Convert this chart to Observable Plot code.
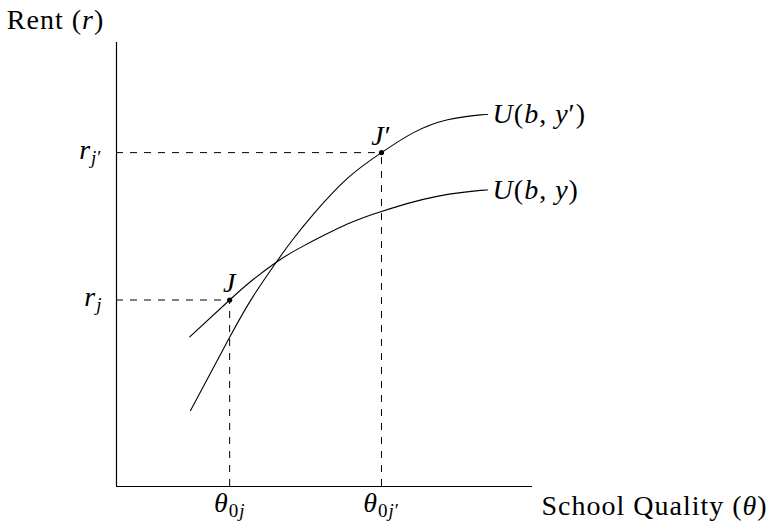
<!DOCTYPE html>
<html>
<head>
<meta charset="utf-8">
<script src="https://cdn.jsdelivr.net/npm/d3@7"></script>
<script src="https://cdn.jsdelivr.net/npm/@observablehq/plot@0.6"></script>
<style>
  body { margin: 0; background: #fff; }
  #chart svg { display: block; }
</style>
</head>
<body>
<div id="chart"></div>
<script>
// Two bid-rent (indifference) curves over school quality θ and rent r.
const lowTheta  = [1.76, 2.72, 3.27, 3.84, 4.42, 5.55, 6.35, 7.14, 7.96, 8.75, 8.92];
const lowRent   = [3.37, 4.20, 4.65, 5.05, 5.38, 5.91, 6.19, 6.41, 6.58, 6.67, 6.68];
const highTheta = [1.78, 2.72, 3.27, 3.84, 4.22, 4.74, 5.55, 6.37, 7.14, 7.96, 8.75, 8.92];
const highRent  = [1.71, 3.36, 4.26, 5.05, 5.54, 6.14, 6.94, 7.52, 7.97, 8.26, 8.37, 8.38];
const curveNames = ["U(b, y)", "U(b, y′)"];

// Chosen locations J and J′
const pointNames = ["J", "J′"];
const pointTheta = [2.72, 6.37];
const pointRent  = [4.20, 7.52];
const thetaTicks = ["θ0j", "θ0j′"];
const rentTicks  = ["rj", "rj′"];

const yAxisTitle = "Rent (r)";
const xAxisTitle = "School Quality (θ)";

const lowCurve  = lowTheta.map((t, i) => ({theta: t, rent: lowRent[i]}));
const highCurve = highTheta.map((t, i) => ({theta: t, rent: highRent[i]}));
const points = pointNames.map((n, i) => ({
  name: n, theta: pointTheta[i], rent: pointRent[i],
  thetaTick: thetaTicks[i], rentTick: rentTicks[i]
}));
const ends = [
  {name: curveNames[0], theta: lowTheta[lowTheta.length - 1], rent: lowRent[lowRent.length - 1]},
  {name: curveNames[1], theta: highTheta[highTheta.length - 1], rent: highRent[highRent.length - 1]}
];

const FONT = "Liberation Serif";
const FS = 28;
const txt = {fontFamily: FONT, fontSize: FS, fill: "#000"};
const dash = {stroke: "#000", strokeWidth: 1, strokeDasharray: "7,7"};

const chart = Plot.plot({
  width: 776,
  height: 522,
  marginLeft: 116,
  marginRight: 244,
  marginTop: 42,
  marginBottom: 36,
  x: {domain: [0, 10], axis: null},
  y: {domain: [0, 10], axis: null},
  marks: [
    // dashed guides from each point to the axes
    Plot.ruleY(points, {y: "rent", x1: 0, x2: "theta", ...dash}),
    Plot.ruleX(points, {x: "theta", y1: 0, y2: "rent", ...dash}),
    // axes
    Plot.ruleX([0], {y1: 0, y2: 10, stroke: "#000", strokeWidth: 1.2}),
    Plot.ruleY([0], {x1: 0, x2: 10, stroke: "#000", strokeWidth: 1.2}),
    // curves
    Plot.line(lowCurve, {x: "theta", y: "rent", curve: "natural", stroke: "#000", strokeWidth: 1.1}),
    Plot.line(highCurve, {x: "theta", y: "rent", curve: "natural", stroke: "#000", strokeWidth: 1.1}),
    Plot.dot(points, {x: "theta", y: "rent", r: 2.6, fill: "#000", stroke: null}),
    // labels
    Plot.text(points, {x: "theta", y: "rent", text: "name", dy: -17, ...txt}),
    Plot.text(points, {x: "theta", y: 0, text: "thetaTick", dy: 17, ...txt}),
    Plot.text(points, {x: 0, y: "rent", text: "rentTick", textAnchor: "end", dx: -14, dy: -3, ...txt}),
    Plot.text(ends, {x: "theta", y: "rent", text: "name", textAnchor: "start", dx: 5, ...txt}),
    Plot.text([yAxisTitle], {x: 0, y: 10, text: d => d, dx: -61, dy: -22, ...txt}),
    Plot.text([xAxisTitle], {x: 10, y: 0, text: d => d, textAnchor: "start", dx: 9, dy: 20, ...txt})
  ]
});

// Math typesetting: italic symbols and subscripts as tspans
const I = t => ({t, it: true});
const R = t => ({t});
const SI = t => ({t, it: true, sub: true});
const SR = t => ({t, sub: true});
const rich = {
  "Rent (r)": [R("Rent ("), I("r"), R(")")],
  "School Quality (θ)": [R("School Quality ("), I("θ"), R(")")],
  "θ0j": [I("θ"), SR("0"), SI("j")],
  "θ0j′": [I("θ"), SR("0"), SI("j"), SR("′")],
  "rj": [I("r"), SI("j")],
  "rj′": [I("r"), SI("j"), SR("′")],
  "J": [I("J")],
  "J′": [I("J"), R("′")],
  "U(b, y)": [I("U"), R("("), I("b"), R(", "), I("y"), R(")")],
  "U(b, y′)": [I("U"), R("("), I("b"), R(", "), I("y"), R("′)")]
};
const SUB = 5;
d3.select(chart).selectAll("text").each(function () {
  const segs = rich[this.textContent];
  if (!segs) return;
  const el = d3.select(this).attr("letter-spacing", 1);
  el.text(null);
  let shift = 0;
  for (const s of segs) {
    const target = s.sub ? SUB : 0;
    const ts = el.append("tspan").text(s.t);
    if (s.it) ts.attr("font-style", "italic");
    if (s.sub) ts.attr("font-size", Math.round(FS * 0.68));
    if (target !== shift) { ts.attr("dy", target - shift); shift = target; }
  }
});

document.getElementById("chart").append(chart);
</script>
</body>
</html>
